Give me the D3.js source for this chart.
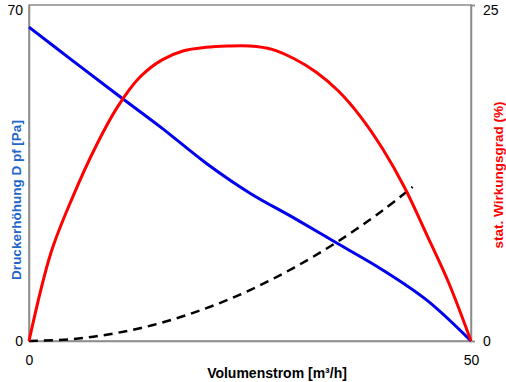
<!DOCTYPE html>
<html>
<head>
<meta charset="utf-8">
<script src="https://cdn.jsdelivr.net/npm/d3@7/dist/d3.min.js"></script>
<style>
html,body{margin:0;padding:0;background:#fff;}
svg{display:block;font-family:"Liberation Sans",Arial,sans-serif;}
</style>
</head>
<body>
<div id="chart"></div>
<script>
// Data
const xDomain = [0, 50];
const pDomain = [0, 70];
const eDomain = [0, 25];
const xTicks = [0, 50];
const pTicks = [0, 70];
const eTicks = [0, 25];

// Pressure curve: Volumenstrom [m³/h] vs Druckerhöhung [Pa]
const pressureV = [0, 5, 10, 15, 20, 25, 30, 35, 40, 45, 50];
const pressureP = [65.4, 58.3, 51.3, 44.4, 37.1, 30.8, 25.6, 20.2, 14.8, 8.5, 0];

// Efficiency curve: Volumenstrom vs stat. Wirkungsgrad [%]
const effV = [0, 2.5, 5, 7.5, 10, 12.5, 15, 17.5, 20, 22.5, 25, 27.5, 30, 32.5, 35, 37.5, 40, 42.5, 45, 47.5, 50];
const effE = [0, 6.6, 10.8, 14.4, 17.4, 19.6, 20.9, 21.6, 21.85, 21.95, 21.95, 21.7, 21.0, 20.0, 18.6, 16.7, 14.3, 11.4, 7.9, 4.3, 0];

// System curve (dashed): Volumenstrom vs Pa
const sysV = [0, 5, 10, 15, 20, 25, 30, 35, 40, 43.4];
const sysP = [0, 0.4, 1.7, 3.8, 6.8, 10.6, 15.3, 20.8, 27.2, 32.1];

const W = 506, H = 382;
const m = {left: 29, right: 35, top: 5, bottom: 41};

const svg = d3.select("#chart").append("svg").attr("width", W).attr("height", H);

const x = d3.scaleLinear().domain(xDomain).range([m.left, W - m.right]);
const yP = d3.scaleLinear().domain(pDomain).range([H - m.bottom, m.top]);
const yE = d3.scaleLinear().domain(eDomain).range([H - m.bottom, m.top]);

const axisColor = "#8c8c8c";

// Plot border
svg.append("rect")
  .attr("x", x(0)).attr("y", yP(70))
  .attr("width", x(50) - x(0)).attr("height", yP(0) - yP(70))
  .attr("fill", "none").attr("stroke", axisColor).attr("stroke-width", 1.5);

// Axes
const fmt = d3.format("d");
const gL = svg.append("g").attr("transform", `translate(${x(0)},0)`)
  .call(d3.axisLeft(yP).tickValues(pTicks).tickSize(0).tickPadding(6).tickFormat(fmt));
const gR = svg.append("g").attr("transform", `translate(${x(50)},0)`)
  .call(d3.axisRight(yE).tickValues(eTicks).tickSize(4).tickPadding(8).tickFormat(fmt));
const gB = svg.append("g").attr("transform", `translate(0,${yP(0)})`)
  .call(d3.axisBottom(x).tickValues(xTicks).tickSize(0).tickPadding(14).tickFormat(fmt));

[gL, gR, gB].forEach(g => {
  g.select(".domain").attr("stroke", axisColor).attr("stroke-width", 1.5);
  g.selectAll(".tick line").attr("stroke", axisColor).attr("stroke-width", 1.5);
  g.selectAll(".tick text").attr("fill", "#000").style("font-size", "14px")
    .style("font-family", "'Liberation Sans', Arial, sans-serif");
});
// top tick labels sit slightly below the top edge so they are not clipped
gL.selectAll(".tick").filter(d => d === 70).select("text").attr("dy", "0.7em");
gR.selectAll(".tick").filter(d => d === 25).select("text").attr("dy", "0.7em");

// Lines
const curve = d3.curveCatmullRom.alpha(0.5);
const lineP = d3.line().x(d => x(d[0])).y(d => yP(d[1])).curve(curve);
const lineE = d3.line().x(d => x(d[0])).y(d => yE(d[1])).curve(curve);

svg.append("path").datum(sysV.map((v, i) => [v, sysP[i]]))
  .attr("d", lineP).attr("fill", "none").attr("stroke", "#000")
  .attr("stroke-width", 2.5).attr("stroke-dasharray", "9,6");

svg.append("path").datum(pressureV.map((v, i) => [v, pressureP[i]]))
  .attr("d", lineP).attr("fill", "none").attr("stroke", "#0000ee")
  .attr("stroke-width", 3);

svg.append("path").datum(effV.map((v, i) => [v, effE[i]]))
  .attr("d", lineE).attr("fill", "none").attr("stroke", "#ff0000")
  .attr("stroke-width", 3);

// Titles
svg.append("text").attr("x", 277).attr("y", 378).attr("text-anchor", "middle")
  .style("font-size", "14px").style("font-weight", "bold").attr("fill", "#000")
  .text("Volumenstrom [m³/h]");

svg.append("text").attr("transform", "translate(21,200) rotate(-90)").attr("text-anchor", "middle")
  .style("font-size", "13.5px").style("font-weight", "bold").attr("fill", "#2266cc")
  .text("Druckerhöhung D pf [Pa]");

svg.append("text").attr("transform", "translate(503,175) rotate(-90)").attr("text-anchor", "middle")
  .style("font-size", "13.5px").style("font-weight", "bold").attr("fill", "#ff0000")
  .text("stat. Wirkungsgrad (%)");
</script>
</body>
</html>
